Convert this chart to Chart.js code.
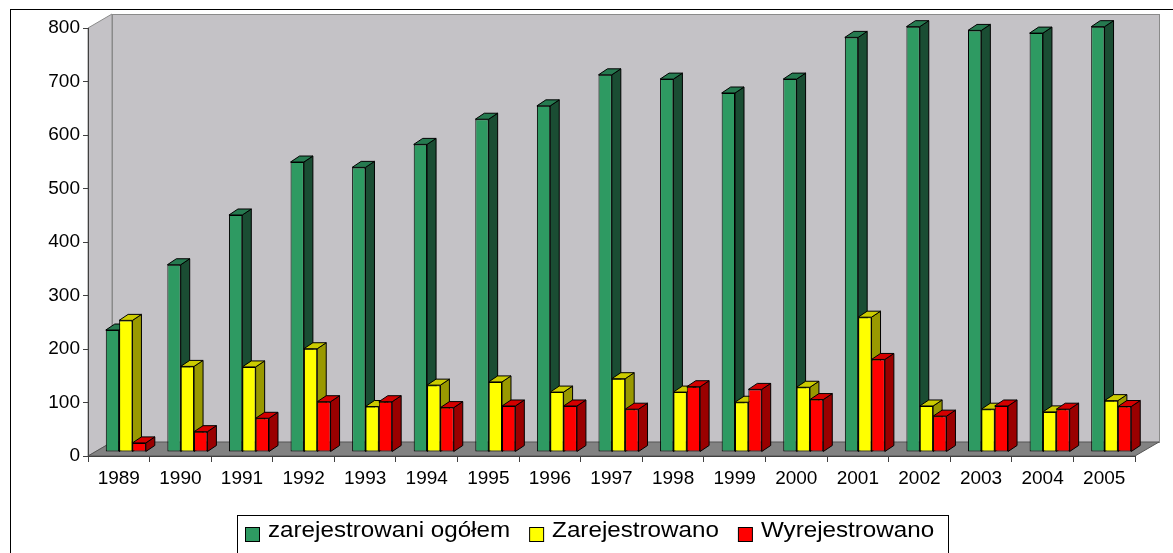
<!DOCTYPE html>
<html>
<head>
<meta charset="utf-8">
<script src="https://cdn.jsdelivr.net/npm/chart.js@4.4.1/dist/chart.umd.min.js"></script>
<style>
	html, body { margin: 0; padding: 0; background: #fff; }
	#wrap { width: 1173px; height: 553px; position: relative; }
</style>
</head>
<body>
<div id="wrap"><canvas id="myChart" width="1173" height="553"></canvas></div>
<script>
// dane
const years = ['1989', '1990', '1991', '1992', '1993', '1994', '1995', '1996', '1997', '1998', '1999', '2000', '2001', '2002', '2003', '2004', '2005'];
const ogolem = [228, 350, 443, 542, 532, 575, 622, 647, 705, 697, 671, 697, 775, 795, 788, 783, 795];
const zarejestrowano = [246, 160, 159, 193, 85, 125, 131, 112, 137, 112, 93, 121, 252, 86, 80, 75, 96];
const wyrejestrowano = [17, 38, 63, 94, 94, 83, 86, 86, 80, 122, 117, 98, 173, 67, 86, 80, 85];
const seriesNames = ['zarejestrowani ogółem', 'Zarejestrowano', 'Wyrejestrowano'];
const yTicks = [0, 100, 200, 300, 400, 500, 600, 700, 800];

// kolory: przód, bok, góra
const faces = [
	['#2e9a62', '#1a4d33', '#267a50'],
	['#ffff00', '#999900', '#cccc00'],
	['#ff0000', '#9a0000', '#d40000']
];

const DEPTH_X = 24, DEPTH_Y = -14;   // głębia ścian
const BAR_DX = 9, BAR_DY = -6;       // głębia słupków
const SHIFT_X = 7, SHIFT_Y = -4;

function drawWalls(chart) {
	const ctx = chart.ctx;
	const a = chart.chartArea;
	ctx.save();
	ctx.strokeStyle = '#000';
	ctx.lineWidth = 1;
	ctx.strokeRect(10.5, 9.5, 1200, 600);
	// tylna ściana
	ctx.fillStyle = '#c4c2c6';
	ctx.strokeStyle = '#8a8a8a';
	ctx.fillRect(a.left + DEPTH_X, a.top + DEPTH_Y, a.right - a.left, a.bottom - a.top);
	ctx.strokeRect(a.left + DEPTH_X + 0.5, a.top + DEPTH_Y + 0.5, a.right - a.left, a.bottom - a.top);
	// lewa ściana
	ctx.beginPath();
	ctx.moveTo(a.left, a.top);
	ctx.lineTo(a.left + DEPTH_X, a.top + DEPTH_Y);
	ctx.lineTo(a.left + DEPTH_X, a.bottom + DEPTH_Y);
	ctx.lineTo(a.left, a.bottom);
	ctx.closePath();
	ctx.fill();
	ctx.stroke();
	// podłoga
	ctx.beginPath();
	ctx.moveTo(a.left, a.bottom);
	ctx.lineTo(a.left + DEPTH_X, a.bottom + DEPTH_Y);
	ctx.lineTo(a.right + DEPTH_X, a.bottom + DEPTH_Y);
	ctx.lineTo(a.right, a.bottom);
	ctx.closePath();
	ctx.fillStyle = '#828282';
	ctx.fill();
	ctx.strokeStyle = '#555';
	ctx.stroke();
	ctx.restore();
}

function drawBars3d(chart) {
	const ctx = chart.ctx;
	ctx.save();
	ctx.translate(SHIFT_X, SHIFT_Y);
	// kolejność: zielone, żółte, czerwone – każda seria przykrywa bok poprzedniej
	chart.data.datasets.forEach((ds, i) => {
		const col = faces[i];
		chart.getDatasetMeta(i).data.forEach(bar => {
			const p = bar.getProps(['x', 'y', 'base', 'width'], true);
			const l = p.x - p.width / 2, r = p.x + p.width / 2;
			bar.draw(ctx);
			ctx.lineWidth = 1;
			ctx.strokeStyle = '#000';
			// bok
			ctx.beginPath();
			ctx.moveTo(r, p.y);
			ctx.lineTo(r + BAR_DX, p.y + BAR_DY);
			ctx.lineTo(r + BAR_DX, p.base + BAR_DY);
			ctx.lineTo(r, p.base);
			ctx.closePath();
			ctx.fillStyle = col[1];
			ctx.fill();
			ctx.stroke();
			// góra
			ctx.beginPath();
			ctx.moveTo(l, p.y);
			ctx.lineTo(l + BAR_DX, p.y + BAR_DY);
			ctx.lineTo(r + BAR_DX, p.y + BAR_DY);
			ctx.lineTo(r, p.y);
			ctx.closePath();
			ctx.fillStyle = col[2];
			ctx.fill();
			ctx.stroke();
		});
	});
	ctx.restore();
}

function drawLegend(chart) {
	const ctx = chart.ctx;
	const stretch = 1.1;
	ctx.save();
	ctx.strokeStyle = '#000';
	ctx.lineWidth = 1;
	ctx.fillStyle = '#fff';
	ctx.fillRect(237.5, 515.5, 711, 60);
	ctx.strokeRect(237.5, 515.5, 711, 60);
	ctx.font = '22px "Liberation Sans", Arial, sans-serif';
	let x = 245;
	chart.data.datasets.forEach(ds => {
		ctx.fillStyle = ds.backgroundColor;
		ctx.fillRect(x + 0.5, 527.5, 14, 14);
		ctx.strokeRect(x + 0.5, 527.5, 14, 14);
		ctx.fillStyle = '#000';
		ctx.save();
		ctx.translate(x + 23, 537);
		ctx.scale(stretch, 1);
		ctx.fillText(ds.label, 0, 0);
		ctx.restore();
		x += 23 + ctx.measureText(ds.label).width * stretch + 19;
	});
	ctx.restore();
}

const wallsPlugin = {
	id: 'walls',
	beforeDraw: drawWalls,
	beforeDatasetsDraw(chart) {
		// rysujemy słupki sami, w odpowiedniej kolejności
		drawBars3d(chart);
		return false;
	},
	afterDraw: drawLegend
};

const ctx = document.getElementById('myChart');

new Chart(ctx, {
	type: 'bar',
	data: {
		labels: years,
		datasets: [
			{ label: seriesNames[0], data: ogolem, backgroundColor: faces[0][0] },
			{ label: seriesNames[1], data: zarejestrowano, backgroundColor: faces[1][0] },
			{ label: seriesNames[2], data: wyrejestrowano, backgroundColor: faces[2][0] }
		]
	},
	options: {
		responsive: false,
		animation: false,
		layout: { padding: { top: 28, right: 38, bottom: 0, left: 0 } },
		datasets: {
			bar: {
				borderColor: '#000',
				borderWidth: 1,
				borderSkipped: false,
				barPercentage: 1,
				categoryPercentage: 0.65
			}
		},
		scales: {
			x: {
				afterFit(scale) { scale.height = 97; },
				grid: { drawOnChartArea: false, offset: true, tickLength: 6, color: '#404040' },
				border: { color: '#404040' },
				ticks: {
					color: '#000',
					padding: 5,
					maxRotation: 0,
					font: { family: '"Liberation Sans", Arial, sans-serif', size: 19 }
				}
			},
			y: {
				min: 0,
				max: 800,
				afterFit(scale) { scale.width = 88; },
				afterBuildTicks(scale) { scale.ticks = yTicks.map(v => ({ value: v })); },
				grid: { drawOnChartArea: false, tickLength: 5, color: '#404040' },
				border: { color: '#404040' },
				ticks: {
					color: '#000',
					padding: 3,
					font: { family: '"Liberation Sans", Arial, sans-serif', size: 19 }
				}
			}
		},
		plugins: {
			legend: { display: false },
			tooltip: { enabled: false }
		}
	},
	plugins: [wallsPlugin]
});
</script>
</body>
</html>
